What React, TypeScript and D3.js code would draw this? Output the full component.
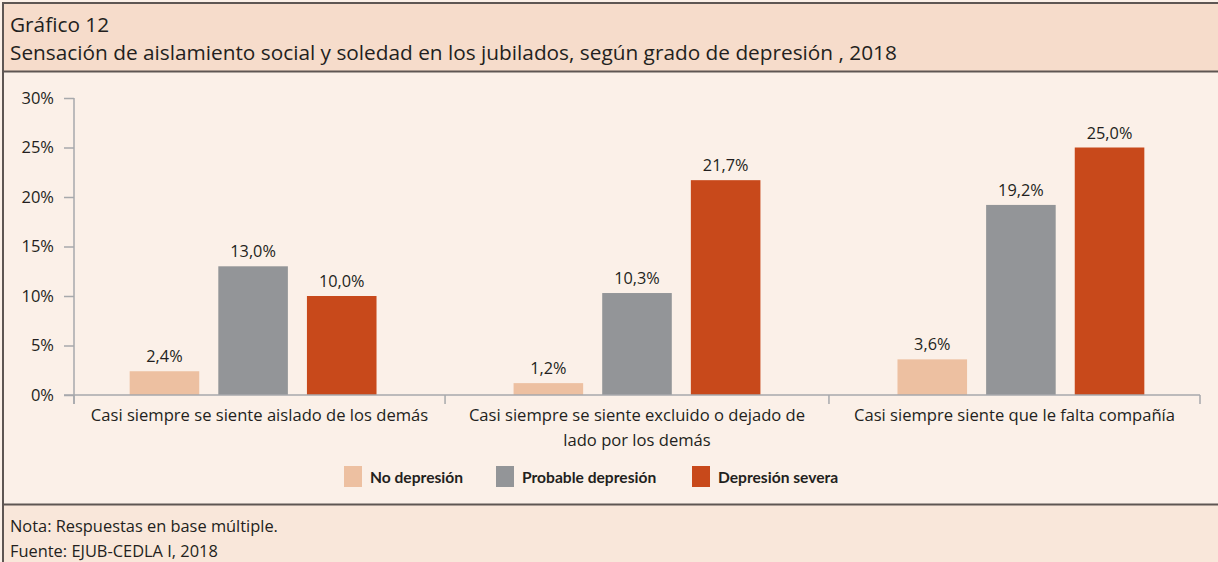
import React, { useEffect, useRef } from "react";
import * as d3 from "d3";

const categories = [
  ["Casi siempre se siente aislado de los demás"],
  ["Casi siempre se siente excluido o dejado de", "lado por los demás"],
  ["Casi siempre siente que le falta compañía"],
];
const seriesNames = ["No depresión", "Probable depresión", "Depresión severa"];
const noDepresion = [2.4, 1.2, 3.6];
const probableDepresion = [13.0, 10.3, 19.2];
const depresionSevera = [10.0, 21.7, 25.0];
const yTicks = [0, 5, 10, 15, 20, 25, 30];
const colors = ["#edc0a1", "#939598", "#c8491b"];

const W = 1218;
const H = 562;
const FONT = "'Open Sans', 'Noto Sans', sans-serif";
const BOLD_FONT = "Lato, 'Open Sans', sans-serif";
const TEXT = "#231f20";

export default function App() {
  const ref = useRef<SVGSVGElement>(null);

  useEffect(() => {
    const svg = d3.select(ref.current);
    svg.selectAll("*").remove();

    const values = [noDepresion, probableDepresion, depresionSevera];
    const catIdx = categories.map((_, i) => i);

    // backgrounds
    svg.append("rect").attr("x", 0).attr("y", 0).attr("width", W).attr("height", H).attr("fill", "#fbf0e8");
    svg.append("rect").attr("x", 3).attr("y", 3).attr("width", W).attr("height", 69).attr("fill", "#f6dccb");
    svg.append("rect").attr("x", 3).attr("y", 505).attr("width", W).attr("height", 60).attr("fill", "#f9e7da");
    const border = "#5e5653";
    [[3, 3, W, 3], [3, 71.5, W, 71.5], [3, 504.5, W, 504.5]].forEach(([x1, y1, x2, y2]) =>
      svg.append("line").attr("x1", x1).attr("y1", y1).attr("x2", x2).attr("y2", y2)
        .attr("stroke", border).attr("stroke-width", 2));
    svg.append("line").attr("x1", 3).attr("y1", 2).attr("x2", 3).attr("y2", H)
      .attr("stroke", border).attr("stroke-width", 2);

    // header
    svg.append("text").attr("x", 10).attr("y", 32).text("Gráfico 12")
      .attr("font-family", FONT).attr("font-size", 20.8).attr("fill", TEXT);
    svg.append("text").attr("x", 10).attr("y", 60)
      .text("Sensación de aislamiento social y soledad en los jubilados, según grado de depresión , 2018")
      .attr("font-family", FONT).attr("font-size", 20.8).attr("fill", TEXT);

    // scales
    const left = 74, right = 1200, zeroY = 395, topY = 98;
    const y = d3.scaleLinear().domain([0, 30]).range([zeroY, topY]);
    const x0 = d3.scaleBand<number>().domain(catIdx).range([left, right]).paddingInner(0.357).paddingOuter(0.145);
    const x1 = d3.scaleBand<number>().domain([0, 1, 2]).range([0, x0.bandwidth()]).paddingInner(0.215);

    const g = svg.append("g");

    // y axis
    const yAxis = g.append("g").attr("transform", `translate(${left},0)`)
      .call(d3.axisLeft(y).tickValues(yTicks).tickSize(10).tickPadding(10).tickFormat((d) => `${d}%`));
    yAxis.select(".domain").attr("stroke", "#a7a9ac").attr("stroke-width", 1.5)
      .attr("d", `M0,${topY}V${zeroY + 9}`);
    yAxis.selectAll(".tick line").attr("stroke", "#a7a9ac").attr("stroke-width", 1.5);
    yAxis.selectAll(".tick text").attr("font-family", FONT).attr("font-size", 16.5).attr("fill", TEXT);

    // bars
    catIdx.forEach((c) => {
      values.forEach((series, s) => {
        const v = series[c];
        const bx = (x0(c) as number) + (x1(s) as number);
        g.append("rect").attr("x", bx).attr("y", y(v)).attr("width", x1.bandwidth())
          .attr("height", y(0) - y(v)).attr("fill", colors[s]);
        g.append("text").attr("x", bx + x1.bandwidth() / 2).attr("y", y(v) - 9)
          .attr("text-anchor", "middle").attr("font-family", FONT).attr("font-size", 16.3)
          .attr("fill", TEXT).text(v.toFixed(1).replace(".", ",") + "%");
      });
    });

    // x axis line and boundary ticks
    g.append("line").attr("x1", left - 10).attr("x2", right).attr("y1", zeroY).attr("y2", zeroY)
      .attr("stroke", "#a7a9ac").attr("stroke-width", 1.5);
    const step = x0.step();
    const bounds = [left, ...catIdx.slice(1).map((c) => (x0(c) as number) - (step - x0.bandwidth()) / 2), right];
    bounds.forEach((bx) =>
      g.append("line").attr("x1", bx).attr("x2", bx).attr("y1", zeroY).attr("y2", zeroY + 9)
        .attr("stroke", "#a7a9ac").attr("stroke-width", 1.5));

    // category labels
    catIdx.forEach((c) => {
      const cx = (bounds[c] + bounds[c + 1]) / 2;
      const t = g.append("text").attr("text-anchor", "middle").attr("font-family", FONT)
        .attr("font-size", 16.6).attr("fill", TEXT);
      categories[c].forEach((line, i) =>
        t.append("tspan").attr("x", cx).attr("y", 421 + i * 24.5).text(line));
    });

    // legend
    const legendX = [344, 496, 692];
    seriesNames.forEach((name, s) => {
      svg.append("rect").attr("x", legendX[s]).attr("y", 466).attr("width", 18).attr("height", 21)
        .attr("fill", colors[s]);
      svg.append("text").attr("x", legendX[s] + 26).attr("y", 483).text(name)
        .attr("font-family", BOLD_FONT).attr("font-size", 15.6).attr("font-weight", "bold").attr("fill", TEXT);
    });

    // footer
    svg.append("text").attr("x", 10).attr("y", 532).text("Nota: Respuestas en base múltiple.")
      .attr("font-family", FONT).attr("font-size", 16.4).attr("fill", TEXT);
    svg.append("text").attr("x", 10).attr("y", 557).text("Fuente: EJUB-CEDLA I, 2018")
      .attr("font-family", FONT).attr("font-size", 16.4).attr("fill", TEXT);
  }, []);

  return (
    <svg ref={ref} width={W} height={H}
      style={{ position: "absolute", left: 0, top: 0, display: "block" }} />
  );
}
